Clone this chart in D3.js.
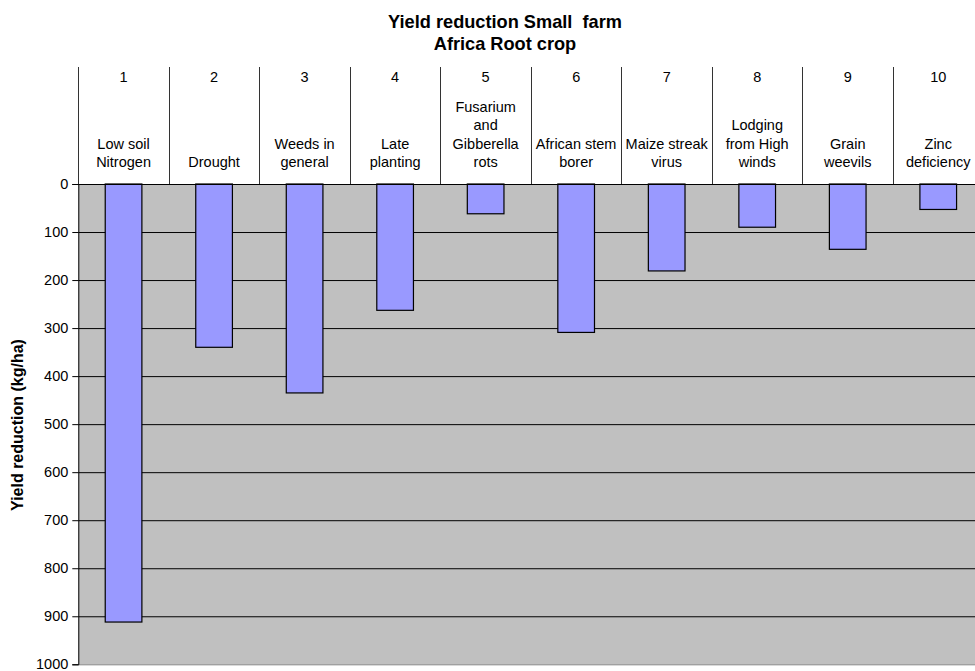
<!DOCTYPE html>
<html>
<head>
<meta charset="utf-8">
<script src="https://cdn.jsdelivr.net/npm/d3@7"></script>
<style>
  html, body { margin: 0; padding: 0; background: #fff; }
  svg { display: block; font-family: "Liberation Sans", Arial, sans-serif; }
</style>
</head>
<body>
<svg id="chart" width="975" height="671"></svg>
<script>
// ---- data ----
const titleLines = ["Yield reduction Small\u00a0\u00a0farm", "Africa Root crop"];
const yAxisTitle = "Yield reduction (kg/ha)";
const columnNumbers = ["1", "2", "3", "4", "5", "6", "7", "8", "9", "10"];
const categoryLines = [
  ["Low soil", "Nitrogen"],
  ["Drought"],
  ["Weeds in", "general"],
  ["Late", "planting"],
  ["Fusarium", "and", "Gibberella", "rots"],
  ["African stem", "borer"],
  ["Maize streak", "virus"],
  ["Lodging", "from High", "winds"],
  ["Grain", "weevils"],
  ["Zinc", "deficiency"]
];
const values = [912, 340, 435, 263, 62, 309, 181, 90, 136, 53];
const yTicks = [0, 100, 200, 300, 400, 500, 600, 700, 800, 900, 1000];

// ---- layout ----
const svg = d3.select("#chart");
const plotL = 78.3, plotR = 983.5, plotT = 184, plotB = 664.3, headerT = 67;

const x = d3.scaleBand()
  .domain(columnNumbers)
  .range([plotL, plotR])
  .paddingInner(0.595)
  .paddingOuter(0.2975);

const y = d3.scaleLinear().domain([0, 1000]).range([plotT, plotB]);

// plot background
svg.append("rect")
  .attr("x", plotL).attr("y", plotT)
  .attr("width", plotR - plotL).attr("height", plotB - plotT)
  .attr("fill", "#C0C0C0");

// gridlines
const grid = svg.append("g")
  .attr("transform", `translate(${plotL},0)`)
  .call(d3.axisLeft(y).tickValues(yTicks.slice(1)).tickSize(-(plotR - plotL)).tickFormat(""));
grid.select(".domain").remove();
grid.selectAll(".tick line").attr("stroke-width", 1)
  .attr("stroke", (d) => d === 1000 ? "#808080" : "#000");

// header column dividers
const step = x.step();
const bounds = columnNumbers.map((d, i) => plotL + i * step);
bounds.push(plotR);
svg.append("g").selectAll("line")
  .data(bounds)
  .join("line")
  .attr("x1", d => Math.round(d) + 0.5).attr("x2", d => Math.round(d) + 0.5)
  .attr("y1", headerT).attr("y2", plotT)
  .attr("stroke", "#333").attr("stroke-width", 1);

// bars
svg.append("g").selectAll("rect")
  .data(values)
  .join("rect")
  .attr("x", (d, i) => x(columnNumbers[i]))
  .attr("y", y(0))
  .attr("width", x.bandwidth())
  .attr("height", d => y(d) - y(0))
  .attr("fill", "#9999FF")
  .attr("stroke", "#000")
  .attr("stroke-width", 1.2);

// zero line
svg.append("line")
  .attr("x1", plotL).attr("x2", 975)
  .attr("y1", plotT + 0.5).attr("y2", plotT + 0.5)
  .attr("stroke", "#000");

// y axis
const yAxis = svg.append("g")
  .attr("transform", `translate(${plotL},0)`)
  .call(d3.axisLeft(y).tickValues(yTicks).tickSize(6).tickPadding(4).tickFormat(d3.format("d")));
yAxis.select(".domain").attr("stroke", "#000");
yAxis.selectAll(".tick line").attr("stroke", "#000");
yAxis.selectAll(".tick text")
  .attr("font-size", 14.5).attr("fill", "#000")
  .attr("font-family", "Liberation Sans, Arial, sans-serif");

// top number axis
const xAxis = svg.append("g")
  .attr("transform", `translate(0,${headerT})`)
  .call(d3.axisTop(x).tickSize(0).tickPadding(0));
xAxis.select(".domain").remove();
xAxis.selectAll(".tick text")
  .attr("font-size", 14.5).attr("fill", "#000")
  .attr("dy", 0).attr("y", 14.5)
  .attr("font-family", "Liberation Sans, Arial, sans-serif");

// category labels (bottom aligned)
const lineH = 18.5;
const catG = svg.append("g");
categoryLines.forEach((lines, i) => {
  const cx = x(columnNumbers[i]) + x.bandwidth() / 2;
  const n = lines.length;
  const t = catG.append("text")
    .attr("text-anchor", "middle")
    .attr("font-size", 14.5)
    .attr("fill", "#000");
  lines.forEach((ln, j) => {
    t.append("tspan")
      .attr("x", cx)
      .attr("y", 167 - (n - 1 - j) * lineH)
      .text(ln);
  });
});

// title
const title = svg.append("text")
  .attr("text-anchor", "middle")
  .attr("font-weight", "bold")
  .attr("font-size", 18.2)
  .attr("fill", "#000");
titleLines.forEach((ln, j) => {
  title.append("tspan").attr("x", 505).attr("y", 28 + j * 22).text(ln);
});

// y axis title
svg.append("text")
  .attr("transform", `translate(23,425) rotate(-90)`)
  .attr("text-anchor", "middle")
  .attr("font-weight", "bold")
  .attr("font-size", 16)
  .attr("fill", "#000")
  .text(yAxisTitle);
</script>
</body>
</html>
